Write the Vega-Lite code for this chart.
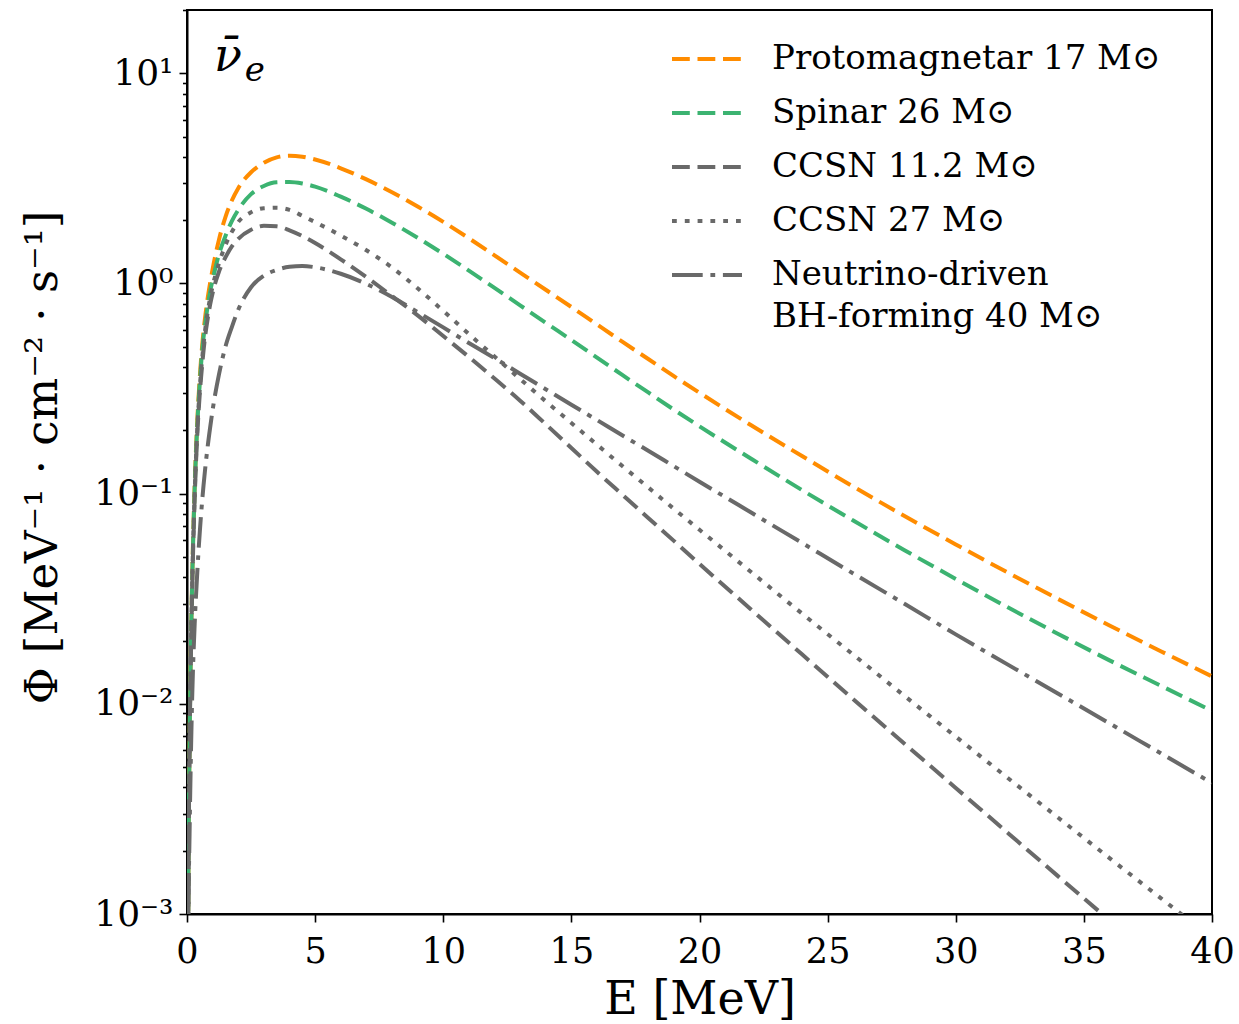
{
  "$schema": "https://vega.github.io/schema/vega-lite/v6.json",
  "width": 1025,
  "height": 904,
  "autosize": {"type": "none"},
  "padding": {"left": 187, "top": 10, "right": 27, "bottom": 110},
  "background": "white",
  "config": {
    "font": "DejaVu Serif",
    "view": {"stroke": "#000", "strokeWidth": 2},
    "axis": {"domainColor": "#000", "domainWidth": 2, "tickColor": "#000", "tickWidth": 1.6, "labelColor": "#000", "titleColor": "#000", "grid": false, "labelFont": "DejaVu Serif", "titleFont": "DejaVu Serif", "titleFontWeight": "normal"}
  },
  "datasets": {
    "spectra": [
      {"m":"P","E":0.02,"phi":0.00011},{"m":"P","E":0.05,"phi":0.0012},{"m":"P","E":0.1,"phi":0.0066},{"m":"P","E":0.15,"phi":0.018},{"m":"P","E":0.2,"phi":0.038},{"m":"P","E":0.3,"phi":0.11},{"m":"P","E":0.4,"phi":0.22},{"m":"P","E":0.5,"phi":0.36},{"m":"P","E":0.6,"phi":0.52},{"m":"P","E":0.7,"phi":0.68},{"m":"P","E":0.8,"phi":0.84},{"m":"P","E":0.9,"phi":1.0},{"m":"P","E":1,"phi":1.17},{"m":"P","E":1.25,"phi":1.62},{"m":"P","E":1.5,"phi":2.07},{"m":"P","E":1.75,"phi":2.48},{"m":"P","E":2,"phi":2.84},{"m":"P","E":2.5,"phi":3.38},{"m":"P","E":3,"phi":3.75},{"m":"P","E":3.5,"phi":3.98},{"m":"P","E":4,"phi":4.055},{"m":"P","E":4.5,"phi":4.009},{"m":"P","E":5,"phi":3.89},{"m":"P","E":6,"phi":3.532},{"m":"P","E":7,"phi":3.126},{"m":"P","E":8,"phi":2.716},{"m":"P","E":9,"phi":2.323},{"m":"P","E":10,"phi":1.963},{"m":"P","E":11,"phi":1.641},{"m":"P","E":12,"phi":1.361},{"m":"P","E":13,"phi":1.127},{"m":"P","E":14,"phi":0.933},{"m":"P","E":15,"phi":0.773},{"m":"P","E":16,"phi":0.638},{"m":"P","E":17,"phi":0.527},{"m":"P","E":18,"phi":0.437},{"m":"P","E":19,"phi":0.362},{"m":"P","E":20,"phi":0.302},{"m":"P","E":22,"phi":0.212},{"m":"P","E":24,"phi":0.151},{"m":"P","E":26,"phi":0.108},{"m":"P","E":28,"phi":0.0783},{"m":"P","E":30,"phi":0.0573},{"m":"P","E":32,"phi":0.0423},{"m":"P","E":34,"phi":0.0315},{"m":"P","E":36,"phi":0.0236},{"m":"P","E":38,"phi":0.0178},{"m":"P","E":40,"phi":0.0135},
      {"m":"S","E":0.02,"phi":0.00011},{"m":"S","E":0.05,"phi":0.0011},{"m":"S","E":0.1,"phi":0.0063},{"m":"S","E":0.15,"phi":0.0175},{"m":"S","E":0.2,"phi":0.037},{"m":"S","E":0.3,"phi":0.105},{"m":"S","E":0.4,"phi":0.21},{"m":"S","E":0.5,"phi":0.34},{"m":"S","E":0.6,"phi":0.49},{"m":"S","E":0.7,"phi":0.63},{"m":"S","E":0.8,"phi":0.77},{"m":"S","E":0.9,"phi":0.91},{"m":"S","E":1,"phi":1.04},{"m":"S","E":1.25,"phi":1.38},{"m":"S","E":1.5,"phi":1.68},{"m":"S","E":1.75,"phi":1.98},{"m":"S","E":2,"phi":2.24},{"m":"S","E":2.5,"phi":2.66},{"m":"S","E":3,"phi":2.91},{"m":"S","E":3.5,"phi":3.03},{"m":"S","E":4,"phi":3.041},{"m":"S","E":4.5,"phi":2.992},{"m":"S","E":5,"phi":2.891},{"m":"S","E":6,"phi":2.588},{"m":"S","E":7,"phi":2.265},{"m":"S","E":8,"phi":1.945},{"m":"S","E":9,"phi":1.648},{"m":"S","E":10,"phi":1.384},{"m":"S","E":11,"phi":1.151},{"m":"S","E":12,"phi":0.953},{"m":"S","E":13,"phi":0.787},{"m":"S","E":14,"phi":0.65},{"m":"S","E":15,"phi":0.538},{"m":"S","E":16,"phi":0.444},{"m":"S","E":17,"phi":0.366},{"m":"S","E":18,"phi":0.303},{"m":"S","E":19,"phi":0.251},{"m":"S","E":20,"phi":0.209},{"m":"S","E":22,"phi":0.147},{"m":"S","E":24,"phi":0.104},{"m":"S","E":26,"phi":0.0745},{"m":"S","E":28,"phi":0.0538},{"m":"S","E":30,"phi":0.0393},{"m":"S","E":32,"phi":0.0289},{"m":"S","E":34,"phi":0.0215},{"m":"S","E":36,"phi":0.0161},{"m":"S","E":38,"phi":0.0122},{"m":"S","E":40,"phi":0.00925},
      {"m":"C11","E":0.02,"phi":0.0001},{"m":"C11","E":0.05,"phi":0.001},{"m":"C11","E":0.1,"phi":0.006},{"m":"C11","E":0.15,"phi":0.016},{"m":"C11","E":0.2,"phi":0.034},{"m":"C11","E":0.3,"phi":0.095},{"m":"C11","E":0.4,"phi":0.19},{"m":"C11","E":0.5,"phi":0.3},{"m":"C11","E":0.6,"phi":0.42},{"m":"C11","E":0.7,"phi":0.55},{"m":"C11","E":0.8,"phi":0.67},{"m":"C11","E":0.9,"phi":0.79},{"m":"C11","E":1,"phi":0.9},{"m":"C11","E":1.25,"phi":1.14},{"m":"C11","E":1.5,"phi":1.33},{"m":"C11","E":1.75,"phi":1.5},{"m":"C11","E":2,"phi":1.63},{"m":"C11","E":2.5,"phi":1.8},{"m":"C11","E":3,"phi":1.88},{"m":"C11","E":3.5,"phi":1.87},{"m":"C11","E":4,"phi":1.79},{"m":"C11","E":4.5,"phi":1.68},{"m":"C11","E":5,"phi":1.556},{"m":"C11","E":6,"phi":1.303},{"m":"C11","E":7,"phi":1.072},{"m":"C11","E":8,"phi":0.871},{"m":"C11","E":9,"phi":0.705},{"m":"C11","E":10,"phi":0.562},{"m":"C11","E":11,"phi":0.447},{"m":"C11","E":12,"phi":0.353},{"m":"C11","E":13,"phi":0.277},{"m":"C11","E":14,"phi":0.214},{"m":"C11","E":15,"phi":0.165},{"m":"C11","E":16,"phi":0.127},{"m":"C11","E":17,"phi":0.0986},{"m":"C11","E":18,"phi":0.0766},{"m":"C11","E":19,"phi":0.0596},{"m":"C11","E":20,"phi":0.0463},{"m":"C11","E":22,"phi":0.0282},{"m":"C11","E":24,"phi":0.0172},{"m":"C11","E":26,"phi":0.01052},{"m":"C11","E":28,"phi":0.00646},{"m":"C11","E":30,"phi":0.00398},{"m":"C11","E":32,"phi":0.00245},{"m":"C11","E":34,"phi":0.00151},{"m":"C11","E":36,"phi":0.000933},{"m":"C11","E":38,"phi":0.000575},{"m":"C11","E":40,"phi":0.000355},
      {"m":"C27","E":0.02,"phi":0.0001},{"m":"C27","E":0.05,"phi":0.001},{"m":"C27","E":0.1,"phi":0.0062},{"m":"C27","E":0.15,"phi":0.017},{"m":"C27","E":0.2,"phi":0.036},{"m":"C27","E":0.3,"phi":0.1},{"m":"C27","E":0.4,"phi":0.2},{"m":"C27","E":0.5,"phi":0.32},{"m":"C27","E":0.6,"phi":0.45},{"m":"C27","E":0.7,"phi":0.59},{"m":"C27","E":0.8,"phi":0.72},{"m":"C27","E":0.9,"phi":0.85},{"m":"C27","E":1,"phi":0.97},{"m":"C27","E":1.25,"phi":1.25},{"m":"C27","E":1.5,"phi":1.52},{"m":"C27","E":1.75,"phi":1.76},{"m":"C27","E":2,"phi":1.96},{"m":"C27","E":2.5,"phi":2.18},{"m":"C27","E":3,"phi":2.28},{"m":"C27","E":3.5,"phi":2.29},{"m":"C27","E":4,"phi":2.239},{"m":"C27","E":4.5,"phi":2.099},{"m":"C27","E":5,"phi":1.959},{"m":"C27","E":6,"phi":1.69},{"m":"C27","E":7,"phi":1.439},{"m":"C27","E":8,"phi":1.191},{"m":"C27","E":9,"phi":0.948},{"m":"C27","E":10,"phi":0.741},{"m":"C27","E":11,"phi":0.575},{"m":"C27","E":12,"phi":0.449},{"m":"C27","E":13,"phi":0.351},{"m":"C27","E":14,"phi":0.275},{"m":"C27","E":15,"phi":0.217},{"m":"C27","E":16,"phi":0.171},{"m":"C27","E":17,"phi":0.135},{"m":"C27","E":18,"phi":0.107},{"m":"C27","E":19,"phi":0.0847},{"m":"C27","E":20,"phi":0.0673},{"m":"C27","E":22,"phi":0.0425},{"m":"C27","E":24,"phi":0.0269},{"m":"C27","E":26,"phi":0.01714},{"m":"C27","E":28,"phi":0.01091},{"m":"C27","E":30,"phi":0.00698},{"m":"C27","E":32,"phi":0.00447},{"m":"C27","E":34,"phi":0.00287},{"m":"C27","E":36,"phi":0.001845},{"m":"C27","E":38,"phi":0.00119},{"m":"C27","E":40,"phi":0.000769},
      {"m":"BH","E":0.02,"phi":0.00012},{"m":"BH","E":0.05,"phi":0.0008},{"m":"BH","E":0.1,"phi":0.0024},{"m":"BH","E":0.15,"phi":0.0055},{"m":"BH","E":0.2,"phi":0.0105},{"m":"BH","E":0.3,"phi":0.024},{"m":"BH","E":0.4,"phi":0.042},{"m":"BH","E":0.5,"phi":0.066},{"m":"BH","E":0.6,"phi":0.095},{"m":"BH","E":0.7,"phi":0.128},{"m":"BH","E":0.8,"phi":0.165},{"m":"BH","E":0.9,"phi":0.205},{"m":"BH","E":1,"phi":0.25},{"m":"BH","E":1.25,"phi":0.37},{"m":"BH","E":1.5,"phi":0.5},{"m":"BH","E":1.75,"phi":0.62},{"m":"BH","E":2,"phi":0.75},{"m":"BH","E":2.5,"phi":0.96},{"m":"BH","E":3,"phi":1.09},{"m":"BH","E":3.5,"phi":1.16},{"m":"BH","E":4,"phi":1.2},{"m":"BH","E":4.5,"phi":1.211},{"m":"BH","E":5,"phi":1.194},{"m":"BH","E":6,"phi":1.112},{"m":"BH","E":7,"phi":0.995},{"m":"BH","E":8,"phi":0.863},{"m":"BH","E":9,"phi":0.731},{"m":"BH","E":10,"phi":0.618},{"m":"BH","E":11,"phi":0.521},{"m":"BH","E":12,"phi":0.441},{"m":"BH","E":13,"phi":0.372},{"m":"BH","E":14,"phi":0.314},{"m":"BH","E":15,"phi":0.265},{"m":"BH","E":16,"phi":0.224},{"m":"BH","E":17,"phi":0.189},{"m":"BH","E":18,"phi":0.16},{"m":"BH","E":19,"phi":0.135},{"m":"BH","E":20,"phi":0.114},{"m":"BH","E":22,"phi":0.0815},{"m":"BH","E":24,"phi":0.0583},{"m":"BH","E":26,"phi":0.0417},{"m":"BH","E":28,"phi":0.0299},{"m":"BH","E":30,"phi":0.0214},{"m":"BH","E":32,"phi":0.01545},{"m":"BH","E":34,"phi":0.01117},{"m":"BH","E":36,"phi":0.00807},{"m":"BH","E":38,"phi":0.00582},{"m":"BH","E":40,"phi":0.0042}
    ],
    "nu": [{"E": 1.05, "phi": 10.2, "t": "ν̄"}],
    "sub": [{"E": 2.25, "phi": 9.15, "t": "e"}]
  },
  "layer": [
    {
      "data": {"name": "spectra"},
      "mark": {"type": "line", "clip": true, "strokeWidth": 4, "interpolate": "monotone"},
      "encoding": {
        "x": {
          "field": "E", "type": "quantitative",
          "scale": {"domain": [0, 40], "nice": false, "zero": false},
          "axis": {"values": [0, 5, 10, 15, 20, 25, 30, 35, 40], "tickSize": 8, "labelFontSize": 35, "labelPadding": 12, "labelFlush": false, "title": "E [MeV]", "titleFontSize": 46, "titlePadding": 8}
        },
        "y": {
          "field": "phi", "type": "quantitative",
          "scale": {"type": "log", "domain": [0.001, 20], "nice": false},
          "axis": {
            "values": [0.001,0.002,0.003,0.004,0.005,0.006,0.007,0.008,0.009,0.01,0.02,0.03,0.04,0.05,0.06,0.07,0.08,0.09,0.1,0.2,0.3,0.4,0.5,0.6,0.7,0.8,0.9,1,2,3,4,5,6,7,8,9,10,20],
            "tickSize": {"condition": {"test": "indexof([0.001,0.01,0.1,1,10], datum.value) >= 0", "value": 8}, "value": 4.5},
            "labelExpr": "datum.value == 10 ? '10¹' : datum.value == 1 ? '10⁰' : datum.value == 0.1 ? '10⁻¹' : datum.value == 0.01 ? '10⁻²' : datum.value == 0.001 ? '10⁻³' : ''",
            "labelOverlap": false,
            "labelFontSize": 36, "labelPadding": 6,
            "title": "Φ [MeV⁻¹ · cm⁻² · s⁻¹]", "titleFontSize": 45,
            "titleX": -145, "titleY": 447, "titleAngle": -90, "titleAlign": "center", "titleBaseline": "middle"
          }
        },
        "color": {
          "field": "m", "type": "nominal",
          "scale": {"domain": ["P", "S", "C11", "C27", "BH"], "range": ["#ff8c00", "#3cb371", "#696969", "#696969", "#696969"]},
          "legend": {"orient": "none", "legendX": 482, "legendY": 32, "title": null, "symbolType": "M-1,0H4", "symbolSize": 784, "symbolStrokeWidth": 4, "labelFontSize": 34, "labelOffset": 69, "rowPadding": 20, "labelLimit": 700, "labelColor": "#000",
            "labelExpr": "datum.value == 'P' ? 'Protomagnetar 17 M⊙' : datum.value == 'S' ? 'Spinar 26 M⊙' : datum.value == 'C11' ? 'CCSN 11.2 M⊙' : datum.value == 'C27' ? 'CCSN 27 M⊙' : ['Neutrino-driven', 'BH-forming 40 M⊙']",
            "encoding": {"labels": {"lineHeight": {"value": 42}}, "symbols": {"dy": {"value": 0}, "y": [{"test": "datum.value === 'BH'", "value": 41}, {"value": 16}]}}}
        },
        "strokeDash": {
          "field": "m", "type": "nominal",
          "scale": {"domain": ["P", "S", "C11", "C27", "BH"], "range": [[17.8, 7.7], [17.8, 7.7], [17.8, 7.7], [4.8, 8], [30.7, 7.7, 4.8, 7.7]]},
          "legend": {"orient": "none", "legendX": 482, "legendY": 32, "title": null, "symbolType": "M-1,0H4", "symbolSize": 784, "symbolStrokeWidth": 4, "labelFontSize": 34, "labelOffset": 69, "rowPadding": 20, "labelLimit": 700, "labelColor": "#000",
            "labelExpr": "datum.value == 'P' ? 'Protomagnetar 17 M⊙' : datum.value == 'S' ? 'Spinar 26 M⊙' : datum.value == 'C11' ? 'CCSN 11.2 M⊙' : datum.value == 'C27' ? 'CCSN 27 M⊙' : ['Neutrino-driven', 'BH-forming 40 M⊙']",
            "encoding": {"labels": {"lineHeight": {"value": 42}}, "symbols": {"dy": {"value": 0}, "y": [{"test": "datum.value === 'BH'", "value": 41}, {"value": 16}]}}}
        }
      }
    },
    {
      "data": {"name": "nu"},
      "mark": {"type": "text", "align": "left", "baseline": "alphabetic", "fontSize": 46, "fontStyle": "italic", "color": "#000"},
      "encoding": {
        "x": {"field": "E", "type": "quantitative"},
        "y": {"field": "phi", "type": "quantitative"},
        "text": {"field": "t"}
      }
    },
    {
      "data": {"name": "sub"},
      "mark": {"type": "text", "align": "left", "baseline": "alphabetic", "fontSize": 34, "fontStyle": "italic", "color": "#000"},
      "encoding": {
        "x": {"field": "E", "type": "quantitative"},
        "y": {"field": "phi", "type": "quantitative"},
        "text": {"field": "t"}
      }
    }
  ]
}
